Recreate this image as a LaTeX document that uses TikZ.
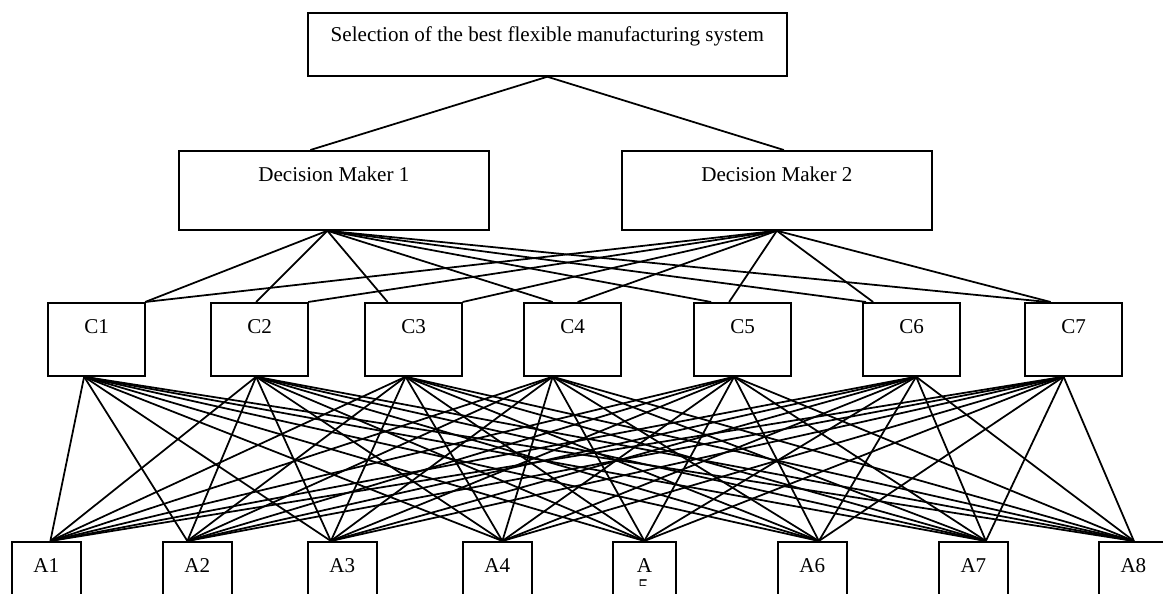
\documentclass[tikz,border=0pt]{standalone}
\usepackage{fontspec}
\setmainfont{Liberation Serif}
\usetikzlibrary{positioning,calc}

\tikzset{
    box/.style={draw, anchor=north west, inner sep=0pt, line width=1pt, font=\fontsize{12}{14}\selectfont, text height=0.62cm},
    critbox/.style={box, minimum width=1.95cm, minimum height=1.46cm, text depth=0.84cm},
    altbox/.style={box, minimum width=1.38cm, minimum height=1.4cm, text depth=0.78cm},
    dmbox/.style={box, minimum width=6.2cm, minimum height=1.58cm, text depth=0.96cm},
    link/.style={line width=1pt}
}

\begin{document}
\begin{tikzpicture}[x=0.02cm, y=-0.02cm]
        \useasboundingbox (0,0) rectangle (1163,594);

        \node[box, minimum width=9.58cm, minimum height=1.26cm, text height=0.58cm, text depth=0.68cm] (Goal) at (307,12) {Selection of the best flexible manufacturing system};

        \node[dmbox] (DM1) at (178,150) {Decision Maker 1};
        \node[dmbox] (DM2) at (621,150) {Decision Maker 2};

        \foreach \c/\x in {1/47, 2/210, 3/364, 4/523, 5/693, 6/862, 7/1024}
            \node[critbox] (C\c) at (\x,302) {C\c};

        \foreach \a/\x in {1/11, 2/162, 3/307, 4/462, 6/777, 7/938}
            \node[altbox] (A\a) at (\x,541) {A\a};
        \node[altbox, minimum width=1.26cm] (A5) at (612,541) {A};
        \node[altbox, minimum width=1.6cm] (A8) at (1098,541) {\hspace{-0.22cm}A8};
        \begin{scope}
            \clip (612,576) rectangle (675,585);
            \node[font=\fontsize{12}{14}\selectfont, inner sep=0pt, anchor=base] (A5tail) at (643.5,593) {5};
        \end{scope}

        \coordinate (DM1top) at ($(DM1.north)+(-23.5,0)$);
        \coordinate (DM2top) at ($(DM2.north)+(7,0)$);
        \coordinate (DM1hub) at ($(DM1.south)+(-6.5,0)$);
        \coordinate (DM2hub) at (DM2.south);

        \draw[link] (Goal.south) -- (DM1top);
        \draw[link] (Goal.south) -- (DM2top);

        \foreach \c/\p/\q/\r in {1/48.5/48.5/-12.5, 2/-3.5/48.5/-3.5, 3/-26/49/-8, 4/-20/5/-20, 5/-31.5/-13.5/-8.5, 6/-45.5/-38.5/4.5, 7/-26/-23/-10} {
            \draw[link] (DM1hub) -- ($(C\c.north)+(\p,0)$);
            \draw[link] (DM2hub) -- ($(C\c.north)+(\q,0)$);
            \coordinate (C\c-out) at ($(C\c.south)+(\r,0)$);
        }

        \foreach \a/\d in {1/4, 2/-10, 3/-11.5, 4/5, 5/0, 6/6.5, 7/12.5, 8/-5}
            \coordinate (A\a-in) at ($(A\a.north)+(\d,0)$);

        \foreach \c in {1,...,7}
            \foreach \a in {1,...,8}
                \draw[link] (C\c-out) -- (A\a-in);
\end{tikzpicture}
\end{document}
